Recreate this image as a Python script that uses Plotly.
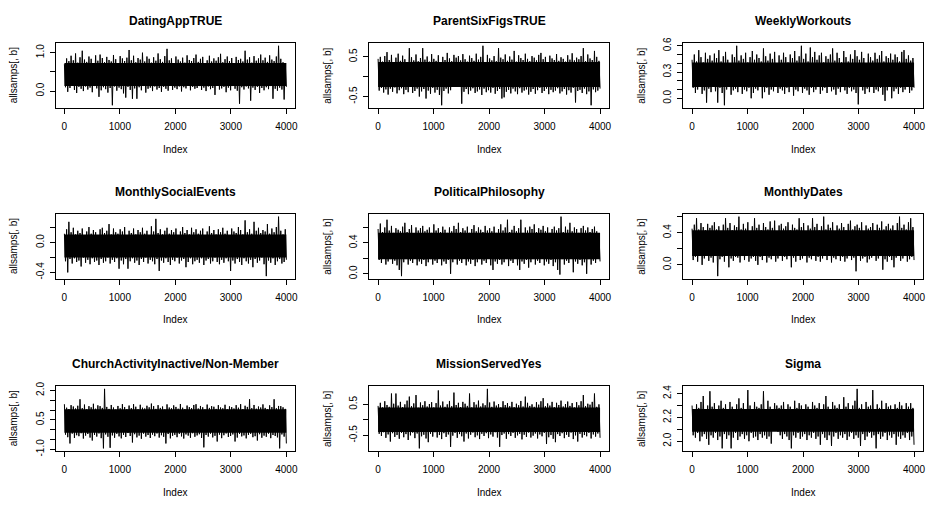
import numpy as np
import plotly.graph_objects as go

# ---------------- data ----------------
titles = ["DatingAppTRUE", "ParentSixFigsTRUE", "WeeklyWorkouts",
          "MonthlySocialEvents", "PoliticalPhilosophy", "MonthlyDates",
          "ChurchActivityInactive/Non-Member", "MissionServedYes", "Sigma"]

x_ticks = [0, 1000, 2000, 3000, 4000]
n_iter = 4000

# Each trace is read as alternating local highs ("_peaks") and local lows ("_troughs"),
# 100 of each, spread evenly over the 4000 iterations.
dating_app_peaks = [
    0.70, 0.85, 0.78, 0.92, 0.80, 0.98, 0.74, 0.88, 1.05, 0.82,
    0.76, 0.90, 0.84, 0.72, 0.93, 0.79, 0.95, 0.86, 0.75, 0.89,
    0.81, 0.77, 0.94, 0.83, 0.73, 0.91, 0.85, 0.78, 0.87, 1.07,
    0.80, 0.92, 0.75, 0.86, 0.82, 1.00, 0.77, 0.90, 0.84, 0.74,
    0.88, 0.79, 0.98, 0.83, 0.76, 0.91, 1.10, 0.80, 0.85, 0.73,
    0.90, 0.82, 0.77, 0.87, 0.74, 0.93, 0.81, 0.78, 0.86, 0.95,
    0.76, 0.84, 0.89, 0.72, 0.80, 0.92, 0.77, 0.85, 0.79, 0.88,
    0.97, 0.75, 0.83, 0.90, 0.78, 0.86, 0.73, 0.89, 0.81, 0.84,
    0.77, 1.05, 0.82, 0.88, 0.74, 0.91, 0.79, 0.85, 0.95, 0.80,
    0.87, 0.76, 0.93, 0.82, 0.78, 0.90, 1.18, 0.84, 0.75, 0.72]
dating_app_troughs = [
    0.10, -0.02, 0.08, 0.14, 0.03, -0.05, 0.11, 0.06, 0.00, 0.12,
    0.04, 0.09, -0.03, 0.13, 0.07, -0.15, 0.02, 0.10, 0.05, -0.04,
    0.08, -0.37, 0.12, 0.01, 0.09, 0.05, -0.06, -0.17, 0.11, 0.03,
    -0.20, 0.07, -0.20, 0.10, 0.02, 0.13, -0.04, 0.06, 0.09, 0.00,
    0.12, 0.04, 0.08, -0.02, 0.11, 0.06, 0.01, 0.14, 0.03, 0.09,
    0.05, 0.12, -0.01, 0.10, 0.07, 0.15, 0.02, 0.11, 0.06, 0.08,
    0.13, 0.03, 0.09, 0.00, 0.12, 0.05, 0.08, -0.10, 0.14, 0.04,
    0.07, 0.11, -0.03, 0.09, 0.02, 0.13, 0.06, 0.01, -0.33, 0.10,
    0.04, 0.12, 0.07, -0.25, 0.09, 0.03, 0.11, -0.05, 0.08, 0.02,
    0.10, 0.05, 0.13, -0.20, 0.06, 0.01, 0.09, 0.04, -0.22, 0.11]

parent_six_figs_peaks = [
    0.45, 0.50, 0.38, 0.52, 0.62, 0.42, 0.55, 0.36, 0.48, 0.58,
    0.40, 0.53, 0.44, 0.37, 0.72, 0.49, 0.41, 0.56, 0.39, 0.47,
    0.72, 0.43, 0.51, 0.38, 0.57, 0.45, 0.40, 0.54, 0.36, 0.50,
    0.42, 0.60, 0.46, 0.39, 0.55, 0.48, 0.52, 0.41, 0.57, 0.44,
    0.38, 0.53, 0.47, 0.40, 0.58, 0.43, 0.50, 0.78, 0.37, 0.55,
    0.46, 0.41, 0.52, 0.39, 0.72, 0.48, 0.44, 0.56, 0.40, 0.51,
    0.43, 0.65, 0.38, 0.54, 0.47, 0.42, 0.58, 0.45, 0.39, 0.52,
    0.48, 0.41, 0.55, 0.60, 0.44, 0.50, 0.37, 0.53, 0.46, 0.42,
    0.57, 0.40, 0.49, 0.45, 0.38, 0.54, 0.43, 0.59, 0.41, 0.48,
    0.44, 0.52, 0.72, 0.39, 0.56, 0.46, 0.42, 0.65, 0.50, 0.40]
parent_six_figs_troughs = [
    -0.35, -0.28, -0.40, -0.32, -0.45, -0.30, -0.38, -0.27, -0.42, -0.34,
    -0.29, -0.44, -0.33, -0.39, -0.26, -0.41, -0.36, -0.30, -0.50, -0.37,
    -0.31, -0.55, -0.35, -0.43, -0.28, -0.40, -0.33, -0.46, -0.72, -0.36,
    -0.30, -0.42, -0.34, -0.25, -0.15, -0.12, -0.18, -0.68, -0.38, -0.31,
    -0.44, -0.35, -0.29, -0.41, -0.37, -0.32, -0.46, -0.30, -0.39, -0.34,
    -0.40, -0.28, -0.43, -0.36, -0.31, -0.55, -0.52, -0.38, -0.33, -0.42,
    -0.30, -0.37, -0.44, -0.29, -0.40, -0.35, -0.32, -0.45, -0.38, -0.31,
    -0.43, -0.34, -0.28, -0.41, -0.36, -0.30, -0.44, -0.33, -0.39, -0.35,
    -0.29, -0.42, -0.37, -0.31, -0.45, -0.34, -0.40, -0.28, -0.65, -0.36,
    -0.33, -0.41, -0.30, -0.44, -0.37, -0.72, -0.32, -0.39, -0.35, -0.30]

weekly_workouts_peaks = [
    0.44, 0.50, 0.42, 0.55, 0.47, 0.41, 0.52, 0.45, 0.49, 0.43,
    0.51, 0.46, 0.55, 0.42, 0.48, 0.53, 0.44, 0.40, 0.50, 0.47,
    0.60, 0.43, 0.49, 0.45, 0.52, 0.41, 0.47, 0.54, 0.44, 0.50,
    0.46, 0.42, 0.57, 0.48, 0.43, 0.51, 0.45, 0.53, 0.40, 0.49,
    0.44, 0.52, 0.47, 0.41, 0.50, 0.46, 0.54, 0.43, 0.48, 0.60,
    0.45, 0.51, 0.42, 0.58, 0.47, 0.53, 0.44, 0.49, 0.52, 0.41,
    0.48, 0.45, 0.50, 0.57, 0.43, 0.52, 0.46, 0.41, 0.54, 0.47,
    0.42, 0.50, 0.45, 0.55, 0.48, 0.44, 0.53, 0.46, 0.40, 0.51,
    0.47, 0.43, 0.52, 0.45, 0.49, 0.54, 0.42, 0.48, 0.46, 0.51,
    0.44, 0.50, 0.47, 0.42, 0.53, 0.55, 0.45, 0.49, 0.43, 0.46]
weekly_workouts_troughs = [
    0.12, 0.06, 0.10, 0.14, 0.05, 0.09, -0.05, 0.11, 0.07, 0.13,
    0.08, -0.05, 0.12, 0.06, -0.08, 0.10, 0.14, 0.04, 0.09, 0.11,
    0.07, 0.13, 0.05, 0.10, 0.08, 0.12, 0.00, 0.06, 0.11, 0.09,
    0.14, 0.00, 0.07, 0.12, 0.04, 0.10, 0.08, 0.13, 0.06, 0.11,
    0.09, 0.05, 0.12, 0.07, 0.14, 0.03, 0.10, 0.08, 0.13, 0.06,
    0.11, 0.09, 0.04, 0.12, 0.07, 0.10, 0.14, 0.05, 0.09, 0.12,
    0.06, 0.13, 0.08, 0.10, 0.04, 0.11, 0.07, 0.14, 0.09, 0.05,
    0.12, 0.08, 0.10, 0.06, -0.07, 0.13, 0.09, 0.05, 0.11, 0.07,
    0.14, 0.06, 0.10, 0.08, 0.12, 0.04, -0.03, 0.09, 0.13, 0.00,
    0.08, 0.11, 0.05, 0.12, 0.07, 0.10, 0.14, 0.06, 0.09, 0.12]

monthly_social_peaks = [
    0.12, 0.18, 0.28, 0.14, 0.20, 0.11, 0.16, 0.13, 0.19, 0.10,
    0.15, 0.21, 0.12, 0.17, 0.14, 0.10, 0.18, 0.20, 0.13, 0.16,
    0.25, 0.11, 0.19, 0.14, 0.12, 0.18, 0.15, 0.21, 0.10, 0.16,
    0.13, 0.19, 0.11, 0.17, 0.14, 0.20, 0.12, 0.16, 0.10, 0.22,
    0.15, 0.32, 0.13, 0.18, 0.11, 0.16, 0.20, 0.12, 0.17, 0.14,
    0.19, 0.10, 0.15, 0.21, 0.13, 0.17, 0.11, 0.20, 0.14, 0.18,
    0.12, 0.16, 0.19, 0.10, 0.15, 0.22, 0.13, 0.17, 0.11, 0.18,
    0.14, 0.20, 0.12, 0.16, 0.10, 0.19, 0.15, 0.13, 0.21, 0.17,
    0.11, 0.30, 0.14, 0.18, 0.12, 0.28, 0.16, 0.20, 0.13, 0.17,
    0.15, 0.25, 0.12, 0.19, 0.14, 0.21, 0.35, 0.16, 0.11, 0.18]
monthly_social_troughs = [
    -0.25, -0.40, -0.22, -0.28, -0.21, -0.26, -0.24, -0.32, -0.20, -0.27,
    -0.23, -0.29, -0.21, -0.26, -0.24, -0.30, -0.22, -0.27, -0.25, -0.20,
    -0.28, -0.23, -0.26, -0.21, -0.35, -0.24, -0.29, -0.22, -0.35, -0.25,
    -0.21, -0.27, -0.24, -0.30, -0.22, -0.26, -0.20, -0.28, -0.23, -0.25,
    -0.29, -0.22, -0.38, -0.24, -0.27, -0.21, -0.26, -0.30, -0.23, -0.25,
    -0.20, -0.28, -0.24, -0.22, -0.33, -0.26, -0.21, -0.29, -0.25, -0.23,
    -0.27, -0.21, -0.30, -0.24, -0.22, -0.28, -0.25, -0.20, -0.26, -0.29,
    -0.23, -0.27, -0.21, -0.25, -0.38, -0.24, -0.28, -0.22, -0.26, -0.30,
    -0.21, -0.25, -0.28, -0.23, -0.33, -0.22, -0.27, -0.24, -0.20, -0.29,
    -0.45, -0.24, -0.27, -0.21, -0.30, -0.25, -0.22, -0.28, -0.26, -0.23]

political_peaks = [
    0.58, 0.65, 0.54, 0.60, 0.70, 0.56, 0.62, 0.53, 0.59, 0.57,
    0.55, 0.61, 0.66, 0.54, 0.58, 0.63, 0.52, 0.60, 0.56, 0.59,
    0.62, 0.55, 0.57, 0.60, 0.53, 0.64, 0.56, 0.59, 0.54, 0.61,
    0.57, 0.53, 0.60, 0.55, 0.62, 0.58, 0.66, 0.54, 0.59, 0.56,
    0.61, 0.53, 0.58, 0.63, 0.55, 0.60, 0.57, 0.54, 0.62, 0.56,
    0.59, 0.55, 0.61, 0.53, 0.58, 0.64, 0.56, 0.60, 0.70, 0.54,
    0.57, 0.62, 0.55, 0.59, 0.70, 0.53, 0.60, 0.56, 0.61, 0.58,
    0.64, 0.54, 0.59, 0.57, 0.62, 0.55, 0.60, 0.53, 0.58, 0.61,
    0.56, 0.59, 0.74, 0.54, 0.61, 0.57, 0.66, 0.55, 0.60, 0.58,
    0.53, 0.59, 0.62, 0.56, 0.60, 0.54, 0.58, 0.61, 0.55, 0.52]
political_troughs = [
    0.18, 0.14, 0.20, 0.12, 0.16, 0.19, 0.13, 0.17, 0.11, 0.05,
    -0.03, 0.15, 0.19, 0.12, 0.17, 0.14, 0.20, 0.11, 0.16, 0.13,
    0.18, 0.10, 0.15, 0.19, 0.12, 0.17, 0.14, 0.20, 0.11, 0.16,
    0.13, 0.18, 0.00, 0.15, 0.19, 0.12, 0.17, 0.14, 0.20, 0.11,
    0.16, 0.13, 0.18, 0.10, 0.15, 0.19, 0.12, 0.17, 0.14, 0.20,
    0.11, 0.05, 0.16, 0.13, 0.18, 0.12, 0.15, 0.19, 0.10, 0.17,
    0.14, 0.20, 0.11, 0.05, 0.16, 0.13, 0.18, 0.08, 0.15, 0.19,
    0.12, 0.17, 0.14, 0.20, 0.11, 0.16, 0.13, 0.18, 0.10, 0.15,
    0.05, -0.01, 0.19, 0.12, 0.17, 0.14, 0.20, 0.02, 0.16, 0.13,
    0.18, 0.11, 0.15, 0.00, 0.19, 0.12, 0.17, 0.14, 0.20, 0.16]

monthly_dates_peaks = [
    0.45, 0.50, 0.58, 0.44, 0.52, 0.47, 0.43, 0.51, 0.46, 0.49,
    0.53, 0.44, 0.48, 0.42, 0.50, 0.58, 0.46, 0.52, 0.43, 0.49,
    0.47, 0.60, 0.44, 0.51, 0.45, 0.53, 0.42, 0.48, 0.58, 0.46,
    0.50, 0.43, 0.52, 0.47, 0.44, 0.54, 0.46, 0.55, 0.42, 0.49,
    0.51, 0.45, 0.48, 0.53, 0.43, 0.50, 0.46, 0.44, 0.58, 0.47,
    0.52, 0.42, 0.49, 0.45, 0.58, 0.47, 0.51, 0.43, 0.48, 0.60,
    0.44, 0.50, 0.46, 0.53, 0.42, 0.49, 0.45, 0.52, 0.47, 0.43,
    0.51, 0.55, 0.44, 0.48, 0.50, 0.46, 0.53, 0.42, 0.49, 0.45,
    0.47, 0.52, 0.43, 0.50, 0.46, 0.54, 0.44, 0.48, 0.51, 0.45,
    0.49, 0.43, 0.52, 0.60, 0.46, 0.50, 0.44, 0.53, 0.58, 0.47]
monthly_dates_troughs = [
    0.06, 0.10, 0.04, 0.11, 0.00, 0.08, 0.12, 0.05, 0.09, 0.03,
    0.11, -0.14, 0.07, 0.10, 0.04, 0.12, -0.03, 0.08, 0.05, 0.10,
    0.09, 0.03, 0.11, 0.06, 0.12, 0.04, 0.08, 0.10, 0.05, 0.00,
    0.10, 0.06, 0.12, 0.03, 0.09, 0.07, 0.11, 0.04, 0.08, 0.12,
    0.05, 0.10, 0.07, 0.11, -0.03, 0.09, 0.04, 0.12, 0.06, 0.08,
    0.11, 0.03, 0.09, 0.07, 0.12, 0.05, 0.10, 0.04, 0.08, 0.11,
    0.06, 0.12, 0.03, 0.09, 0.07, 0.11, 0.05, 0.10, 0.04, 0.08,
    0.12, 0.06, 0.09, -0.08, 0.11, 0.05, 0.08, 0.10, 0.03, 0.07,
    0.09, 0.12, 0.05, 0.08, 0.11, -0.06, 0.07, 0.04, 0.10, 0.06,
    -0.03, 0.09, 0.12, 0.05, 0.08, 0.11, 0.04, 0.07, 0.10, 0.06]

church_inactive_peaks = [
    1.30, 1.12, 1.05, 1.25, 1.18, 1.08, 1.22, 1.55, 1.10, 1.28,
    1.04, 1.20, 1.14, 1.32, 1.07, 1.24, 1.20, 1.11, 2.08, 1.16,
    1.06, 1.26, 1.13, 1.02, 1.21, 1.09, 1.30, 1.15, 1.05, 1.23,
    1.10, 1.30, 1.17, 1.04, 1.27, 1.12, 1.08, 1.22, 1.14, 1.33,
    1.20, 1.06, 1.25, 1.11, 1.18, 1.03, 1.29, 1.13, 1.09, 1.24,
    1.16, 1.07, 1.31, 1.12, 1.05, 1.23, 1.15, 1.10, 1.26, 1.30,
    1.08, 1.21, 1.14, 1.03, 1.28, 1.11, 1.20, 1.17, 1.06, 1.25,
    1.13, 1.09, 1.27, 1.04, 1.19, 1.15, 1.08, 1.25, 1.12, 1.30,
    1.05, 1.22, 1.16, 1.55, 1.10, 1.26, 1.07, 1.18, 1.13, 1.29,
    1.11, 1.04, 1.24, 1.15, 1.55, 1.09, 1.21, 1.20, 1.14, 1.06]
church_inactive_troughs = [
    -0.25, -0.38, -0.70, -0.20, -0.42, -0.28, -0.33, -0.18, -0.45, -0.30,
    -0.22, -0.40, -0.55, -0.27, -0.35, -0.19, -0.43, -0.95, -0.24, -0.36,
    -0.92, -0.29, -0.41, -0.21, -0.34, -0.44, -0.26, -0.37, -0.17, -0.32,
    -0.65, -0.23, -0.39, -0.30, -0.46, -0.20, -0.35, -0.27, -0.42, -0.25,
    -0.33, -0.19, -0.40, -0.28, -0.36, -0.70, -0.22, -0.44, -0.31, -0.26,
    -0.38, -0.21, -0.34, -0.45, -0.24, -0.30, -0.41, -0.18, -0.36, -0.29,
    -0.23, -0.42, -0.90, -0.27, -0.35, -0.20, -0.39, -0.31, -0.60, -0.25,
    -0.43, -0.28, -0.19, -0.37, -0.32, -0.24, -0.60, -0.40, -0.22, -0.34,
    -0.29, -0.44, -0.26, -0.21, -0.38, -0.33, -0.55, -0.23, -0.41, -0.30,
    -0.36, -0.20, -0.43, -0.27, -0.32, -0.39, -0.95, -0.24, -0.35, -0.70]

mission_served_peaks = [
    0.45, 0.55, 0.40, 0.60, 0.48, 0.42, 0.85, 0.52, 0.85, 0.46,
    0.58, 0.41, 0.50, 0.62, 0.75, 0.44, 0.53, 0.80, 0.39, 0.56,
    0.47, 0.60, 0.43, 0.51, 0.57, 0.40, 0.54, 0.95, 0.46, 0.59,
    0.42, 0.50, 0.61, 0.44, 0.88, 0.48, 0.55, 0.41, 0.58, 0.52,
    0.45, 0.85, 0.40, 0.57, 0.49, 0.62, 0.43, 0.53, 0.47, 1.00,
    0.56, 0.42, 0.59, 0.46, 0.51, 0.40, 0.60, 0.48, 0.54, 0.44,
    0.58, 0.41, 0.52, 0.47, 0.61, 0.43, 0.75, 0.55, 0.45, 0.50,
    0.42, 0.57, 0.49, 0.60, 0.70, 0.44, 0.53, 0.46, 0.58, 0.41,
    0.55, 0.48, 0.62, 0.43, 0.51, 0.59, 0.45, 0.54, 0.40, 0.57,
    0.47, 0.60, 0.80, 0.44, 0.52, 0.49, 0.58, 0.85, 0.42, 0.50]
mission_served_troughs = [
    -0.45, -0.52, -0.40, -0.58, -0.47, -0.70, -0.43, -0.55, -0.49, -0.61,
    -0.42, -0.56, -0.46, -0.65, -0.50, -0.41, -0.59, -0.44, -0.92, -0.53,
    -0.48, -0.60, -0.72, -0.45, -0.54, -0.40, -0.57, -0.49, -0.62, -0.43,
    -0.55, -0.47, -0.87, -0.51, -0.42, -0.58, -0.46, -0.53, -0.70, -0.44,
    -0.60, -0.48, -0.41, -0.56, -0.50, -0.62, -0.45, -0.52, -0.43, -0.59,
    -0.47, -0.54, -0.40, -0.57, -0.87, -0.49, -0.44, -0.61, -0.46, -0.52,
    -0.42, -0.58, -0.50, -0.45, -0.63, -0.48, -0.55, -0.41, -0.57, -0.51,
    -0.44, -0.60, -0.47, -0.53, -0.42, -0.78, -0.56, -0.49, -0.61, -0.72,
    -0.46, -0.52, -0.43, -0.59, -0.48, -0.55, -0.41, -0.62, -0.50, -0.70,
    -0.45, -0.57, -0.49, -0.53, -0.42, -0.60, -0.47, -0.54, -0.44, -0.58]

sigma_peaks = [
    2.30, 2.27, 2.31, 2.28, 2.33, 2.38, 2.26, 2.30, 2.42, 2.29,
    2.32, 2.27, 2.30, 2.34, 2.28, 2.31, 2.26, 2.33, 2.29, 2.27,
    2.31, 2.36, 2.28, 2.32, 2.26, 2.43, 2.30, 2.27, 2.33, 2.29,
    2.28, 2.31, 2.42, 2.27, 2.34, 2.29, 2.26, 2.32, 2.30, 2.28,
    2.30, 2.33, 2.27, 2.31, 2.29, 2.26, 2.34, 2.28, 2.32, 2.30,
    2.27, 2.31, 2.29, 2.26, 2.33, 2.30, 2.28, 2.32, 2.27, 2.31,
    2.38, 2.29, 2.26, 2.33, 2.30, 2.28, 2.31, 2.27, 2.37, 2.29,
    2.32, 2.26, 2.30, 2.34, 2.44, 2.28, 2.31, 2.27, 2.33, 2.29,
    2.30, 2.43, 2.27, 2.31, 2.28, 2.34, 2.26, 2.32, 2.29, 2.30,
    2.27, 2.31, 2.28, 2.33, 2.30, 2.26, 2.32, 2.29, 2.32, 2.28]
sigma_troughs = [
    2.05, 2.03, 2.07, 2.00, 2.04, 2.06, 2.02, 1.97, 2.05, 2.03,
    2.07, 2.01, 2.04, 1.94, 2.06, 2.02, 2.05, 1.94, 2.03, 2.07,
    2.01, 2.04, 2.06, 2.02, 2.05, 2.00, 2.07, 2.03, 2.04, 2.01,
    2.06, 2.03, 2.05, 2.02, 2.04, 1.98, 2.09, 2.10, 2.08, 2.05,
    2.02, 2.06, 2.04, 2.01, 1.94, 2.05, 2.03, 2.07, 2.02, 2.04,
    2.06, 2.01, 2.05, 2.03, 2.07, 2.02, 2.04, 1.97, 2.06, 2.03,
    2.01, 2.05, 1.96, 2.04, 2.07, 2.02, 2.05, 2.03, 2.06, 2.01,
    2.04, 2.07, 2.02, 2.05, 2.03, 1.96, 2.06, 2.01, 2.04, 2.07,
    2.03, 2.05, 1.94, 2.06, 2.02, 2.04, 2.07, 2.01, 2.05, 2.03,
    2.06, 1.97, 2.04, 2.02, 2.05, 2.03, 2.07, 2.01, 2.04, 1.97]

# solid-black middle of each trace (where the 4000 samples saturate), low / high edge
core_lo = [0.13, -0.26, 0.13, -0.20, 0.19, 0.11, -0.16, -0.39, 2.08]
core_hi = [0.73, 0.37, 0.41, 0.11, 0.53, 0.43, 1.04, 0.40, 2.27]

y_tickvals = [
    [0.0, 0.5, 1.0],
    [-0.5, 0.0, 0.5],
    [0.0, 0.1, 0.2, 0.3, 0.4, 0.5, 0.6],
    [-0.4, -0.2, 0.0, 0.2],
    [0.0, 0.2, 0.4, 0.6],
    [0.0, 0.2, 0.4, 0.6],
    [-1.0, -0.5, 0.0, 0.5, 1.0, 1.5, 2.0],
    [-0.5, 0.0, 0.5],
    [2.0, 2.1, 2.2, 2.3, 2.4]]
y_ticktext = [
    ["0.0", "", "1.0"],
    ["-0.5", "", "0.5"],
    ["0.0", "", "", "0.3", "", "", "0.6"],
    ["-0.4", "", "0.0", ""],
    ["0.0", "", "0.4", ""],
    ["0.0", "", "0.4", ""],
    ["-1.0", "", "", "0.5", "", "", "2.0"],
    ["-0.5", "", "0.5"],
    ["2.0", "", "2.2", "", "2.4"]]

series = [(dating_app_peaks, dating_app_troughs),
          (parent_six_figs_peaks, parent_six_figs_troughs),
          (weekly_workouts_peaks, weekly_workouts_troughs),
          (monthly_social_peaks, monthly_social_troughs),
          (political_peaks, political_troughs),
          (monthly_dates_peaks, monthly_dates_troughs),
          (church_inactive_peaks, church_inactive_troughs),
          (mission_served_peaks, mission_served_troughs),
          (sigma_peaks, sigma_troughs)]

# ---------------- layout geometry (pixels) ----------------
W, H = 931, 508
col_left = [55.7, 370.4, 685.4]
box_w = 240.5
row_top = [38.3, 213.3, 389.7]
box_h = 65.8
FONT = "Liberation Sans, Arial, Helvetica, sans-serif"

fig = go.Figure()
layout_axes = {}
annotations = []

for i, (peaks, troughs) in enumerate(series):
    r, c = divmod(i, 3)
    sfx = "" if i == 0 else str(i + 1)
    xref, yref = "x" + sfx, "y" + sfx
    vals = [v for pair in zip(peaks, troughs) for v in pair]
    idx = np.linspace(1, n_iter, len(vals))

    # dense core band
    fig.add_trace(go.Scatter(x=[1, n_iter], y=[core_lo[i], core_lo[i]], mode="lines",
                             line=dict(width=0, color="black"), xaxis=xref, yaxis=yref,
                             showlegend=False, hoverinfo="skip"))
    fig.add_trace(go.Scatter(x=[1, n_iter], y=[core_hi[i], core_hi[i]], mode="lines",
                             fill="tonexty", fillcolor="black",
                             line=dict(width=0, color="black"), xaxis=xref, yaxis=yref,
                             showlegend=False, hoverinfo="skip"))
    # trace
    fig.add_trace(go.Scatter(x=idx, y=vals, mode="lines",
                             line=dict(color="black", width=1),
                             xaxis=xref, yaxis=yref, showlegend=False))

    lo, hi = min(vals), max(vals)
    pad = 0.04 * (hi - lo)
    xpad = 0.04 * (n_iter - 1)

    x0 = col_left[c] / W
    x1 = (col_left[c] + box_w) / W
    y1 = 1 - row_top[r] / H
    y0 = 1 - (row_top[r] + box_h) / H

    common = dict(showline=True, mirror=True, linecolor="black", linewidth=1,
                  showgrid=False, zeroline=False, ticks="outside", ticklen=5,
                  tickcolor="black", tickwidth=1,
                  tickfont=dict(family=FONT, size=10, color="black"))
    layout_axes["xaxis" + sfx] = dict(common, domain=[x0, x1], anchor=yref,
                                      range=[1 - xpad, n_iter + xpad],
                                      tickvals=x_ticks, ticktext=[str(v) for v in x_ticks],
                                      ticklabelstandoff=4)
    layout_axes["yaxis" + sfx] = dict(common, domain=[y0, y1], anchor=xref,
                                      range=[lo - pad, hi + pad],
                                      tickvals=y_tickvals[i], ticktext=y_ticktext[i],
                                      tickangle=-90, ticklabelstandoff=2)

    cx = (col_left[c] + box_w / 2) / W
    annotations.append(dict(text="<b>" + titles[i] + "</b>", x=cx, xref="paper",
                            y=1 - (row_top[r] - 22.8) / H, yref="paper",
                            xanchor="center", yanchor="middle", showarrow=False,
                            font=dict(family=FONT, size=12, color="black")))
    annotations.append(dict(text="Index", x=cx, xref="paper",
                            y=1 - (row_top[r] + box_h + 42.4) / H, yref="paper",
                            xanchor="center", yanchor="middle", showarrow=False,
                            font=dict(family=FONT, size=10, color="black")))
    annotations.append(dict(text="allsamps[, b]", x=(col_left[c] - 42.0) / W, xref="paper",
                            y=1 - (row_top[r] + box_h / 2) / H, yref="paper",
                            xanchor="center", yanchor="middle", showarrow=False,
                            textangle=-90,
                            font=dict(family=FONT, size=10, color="black")))

fig.update_layout(width=W, height=H, margin=dict(l=0, r=0, t=0, b=0),
                  paper_bgcolor="white", plot_bgcolor="white",
                  annotations=annotations, showlegend=False, **layout_axes)

fig.write_html("out.html",
               config={"displayModeBar": False},
               post_script="document.body.style.margin='0px';"
                           "document.body.style.padding='0px';"
                           "document.body.style.overflow='hidden';")
